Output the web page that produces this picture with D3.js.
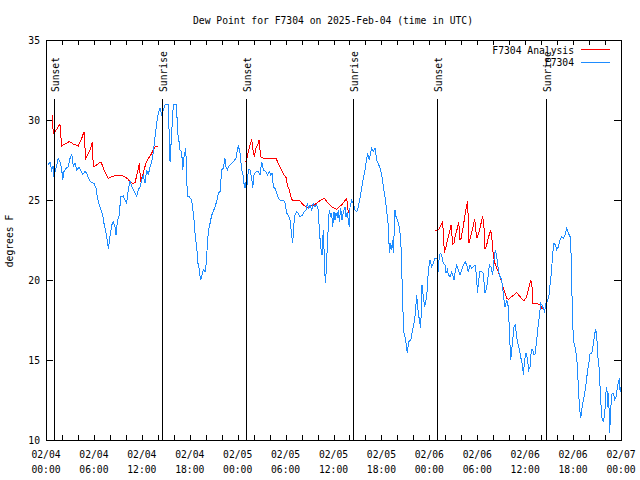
<!DOCTYPE html>
<html><head><meta charset="utf-8">
<script src="https://cdn.jsdelivr.net/npm/d3@7"></script>
<style>
html,body{margin:0;padding:0;background:#fff;}
svg{display:block;}
text{font-family:"DejaVu Sans Mono","Liberation Mono",monospace;font-size:9.7px;fill:#000;}
</style>
</head><body>
<svg id="chart" width="640" height="480"></svg>
<script>
// ---------------- DATA ----------------
const startTime = "2025-02-04T00:00:00Z";
const spanHours = 72;
const titleText = "Dew Point for F7304 on 2025-Feb-04 (time in UTC)";
const yLabelText = "degrees F";
const yTicks = [10, 15, 20, 25, 30, 35];
const seriesNames = ["F7304 Analysis", "F7304"];

// Observations (hours since start, dew point F)
const obsHours = [
0.29,0.50,0.71,0.88,1.00,1.13,1.54,1.75,1.96,2.09,
2.25,2.50,2.80,3.01,3.22,3.42,3.63,3.84,4.17,4.34,
4.59,4.88,5.09,5.42,5.72,6.01,6.26,6.42,6.67,6.89,
7.10,7.26,7.48,7.73,7.80,8.01,8.23,8.43,8.64,8.77,
8.93,9.18,9.35,9.68,9.89,10.10,10.31,10.52,10.73,10.93,
11.14,11.36,11.56,11.77,11.98,12.18,12.40,12.61,12.81,13.02,
13.24,13.44,13.65,13.86,14.06,14.27,14.49,14.69,14.90,15.31,
15.53,15.94,16.37,16.44,16.69,16.78,16.99,17.12,17.28,17.49,
17.62,17.69,17.91,18.24,18.45,18.57,18.70,18.87,19.03,19.20,
19.35,19.50,19.70,19.91,20.04,20.32,20.54,20.75,20.95,21.16,
21.37,21.58,21.79,22.00,22.20,22.41,22.54,22.70,22.83,23.04,
23.46,23.79,24.08,24.29,24.51,24.71,24.79,24.92,25.05,25.21,
25.33,25.55,25.76,25.88,26.05,26.30,26.59,26.80,27.01,27.21,
27.55,27.71,27.96,28.14,28.30,28.47,28.68,28.89,29.09,29.30,
29.72,29.93,30.14,30.34,30.55,30.76,30.89,31.05,31.18,31.39,
31.59,31.81,32.14,32.31,32.56,32.72,32.90,33.06,33.27,33.47,
33.68,33.90,34.10,34.22,34.40,34.56,34.72,34.85,34.97,35.10,
35.22,35.35,35.47,35.65,35.77,35.90,36.06,36.19,36.31,36.48,
36.60,36.73,36.90,37.07,37.23,37.44,37.57,37.73,37.86,37.98,
38.07,38.28,38.48,38.69,38.90,39.11,39.32,39.53,39.73,39.94,
40.16,40.28,40.48,40.66,40.78,40.99,41.20,41.41,41.61,41.82,
42.04,42.24,42.45,42.67,42.87,43.00,43.17,43.30,43.42,43.50,
43.70,43.83,43.99,44.24,44.42,44.54,44.67,44.83,45.04,45.24,
45.42,45.67,45.92,46.08,46.25,46.42,46.58,46.75,46.92,47.08,
47.25,47.42,47.58,47.75,47.87,48.08,48.29,48.50,48.71,49.00,
49.12,49.25,49.42,49.55,49.75,49.96,50.09,50.25,50.38,50.59,
50.80,50.93,51.09,51.21,51.43,51.63,51.84,52.05,52.26,52.47,
52.68,52.88,53.09,53.30,53.72,53.93,54.01,54.18,54.34,54.56,
54.76,54.97,55.09,55.26,55.51,55.72,55.93,56.10,56.26,56.44,
56.64,56.85,57.06,57.35,57.48,57.69,57.89,58.02,58.19,58.32,
58.44,58.60,58.77,58.94,59.07,59.19,59.35,59.52,59.69,59.77,
59.94,60.11,60.27,60.44,60.61,60.77,60.94,61.11,61.27,61.44,
61.61,61.77,61.95,62.11,62.27,62.44,62.61,62.77,62.98,63.11,
63.28,63.45,63.61,63.78,63.95,64.16,64.37,64.58,64.78,64.99,
65.20,65.41,65.62,65.74,65.87,66.03,66.24,66.45,66.62,66.79,
66.96,67.13,67.30,67.46,67.63,67.80,67.97,68.13,68.34,68.55,
68.72,68.85,68.97,69.10,69.22,69.38,69.51,69.64,69.80,69.97,
70.14,70.22,70.35,70.47,70.55,70.64,70.76,70.89,71.05,71.22,
71.38,71.55,71.72,71.80,71.89,72.00
];
const obsDew = [
27.19,27.39,26.88,27.13,26.44,26.77,27.6,27.4,26.98,26.25,
26.77,26.98,27.08,27.6,27.88,27.08,27.29,26.88,27.04,26.88,
26.6,26.77,26.67,26.25,26.08,26.04,25.73,25.21,24.69,24.38,
24.06,23.54,23.02,22.29,21.92,22.71,23.44,23.64,23.33,22.81,
23.64,24.06,25.21,25.25,25.0,24.79,25.63,26.21,25.83,25.63,
25.42,25.25,25.63,25.83,26.25,26.56,26.04,26.88,26.56,27.08,
27.4,28.02,28.96,29.79,30.42,30.73,30.31,30.63,30.94,30.94,
27.39,30.94,30.94,29.38,28.54,28.13,28.02,26.88,27.71,28.23,
26.67,25.21,25.21,25.0,24.17,23.54,22.71,22.08,21.04,20.63,
20.0,20.21,20.63,20.52,20.94,23.02,23.54,24.06,24.27,24.58,
24.9,25.42,25.52,26.88,26.98,27.6,27.08,26.88,27.08,27.19,
27.4,27.6,28.44,27.92,26.88,26.46,26.04,25.73,26.14,25.94,
26.88,26.88,26.35,25.73,26.56,26.77,26.77,26.56,27.39,26.88,
26.77,26.56,26.77,26.56,26.67,25.83,25.73,25.42,25.1,25.0,
25.0,24.79,24.17,24.06,23.75,22.81,22.29,23.54,24.06,24.27,
24.17,23.96,24.06,24.27,24.38,24.79,24.48,24.69,24.38,24.79,
24.58,24.69,24.38,23.13,22.08,21.56,23.13,21.46,19.79,20.63,
22.08,23.33,24.38,23.96,24.17,23.33,24.27,23.75,24.17,23.96,
24.38,23.64,24.48,23.75,24.27,24.58,23.96,24.27,23.64,23.33,
24.58,25.0,24.79,24.38,24.27,24.58,25.1,25.73,26.35,26.88,
27.6,27.92,27.5,28.02,28.23,28.02,28.23,27.5,27.29,26.98,
26.56,25.83,25.21,24.27,23.33,21.67,22.29,21.88,22.5,21.67,
24.38,23.96,23.75,23.33,22.5,20.83,18.33,16.67,16.25,15.42,
16.15,16.25,16.88,17.29,17.92,19.06,18.13,17.5,16.98,19.69,
18.96,18.33,18.75,19.38,20.63,21.25,20.83,21.04,21.35,21.35,
20.52,21.56,21.67,21.56,21.04,20.94,20.42,20.63,20.31,20.21,
20.52,20.31,20.0,20.42,20.94,20.63,20.31,20.63,20.94,21.15,
20.94,20.52,20.94,20.73,20.94,20.21,19.17,20.0,20.52,20.52,
20.42,19.17,19.38,19.79,20.94,20.83,20.31,21.25,21.88,21.46,
20.63,20.21,20.0,18.75,18.33,18.75,18.33,16.88,15.0,15.63,
16.25,17.08,17.19,16.46,16.04,15.83,15.42,15.0,14.58,14.06,
15.0,15.42,15.1,14.38,14.58,15.63,15.63,15.31,15.42,16.25,
17.08,17.71,18.54,18.44,18.23,18.02,18.54,18.65,19.06,19.69,
20.42,21.67,22.29,22.19,21.88,22.08,22.5,22.71,22.6,22.81,
23.23,22.92,22.71,21.67,18.96,16.25,15.83,15.21,13.75,12.08,
11.35,12.08,12.5,12.92,13.54,14.27,14.79,15.42,15.42,16.04,
16.67,16.92,16.46,15.21,14.79,13.33,12.08,11.25,11.15,11.67,
13.13,13.33,12.08,12.92,10.42,11.04,12.29,12.92,12.92,12.5,
12.71,13.33,13.65,13.85,13.02,13.33
];

// Analysis (null = gap in the analysis line)
const anaHours = [
0.75,0.92,1.13,1.54,1.75,1.96,2.38,2.92,3.42,4.05,
4.47,4.76,4.97,5.51,5.80,5.92,6.35,6.89,7.26,7.80,
8.23,8.85,9.48,10.18,10.52,10.86,11.14,11.43,11.68,11.86,
12.11,12.27,12.52,12.81,13.11,13.44,13.65,14.06,
19.0,
24.92,25.13,25.33,25.55,25.76,25.88,26.09,26.30,26.51,26.67,
26.88,27.21,28.80,29.09,29.51,29.80,30.05,30.22,30.47,30.76,
30.97,31.81,32.22,32.64,33.27,33.90,34.40,34.85,35.35,35.77,
36.40,36.73,37.03,37.32,37.65,37.86,38.07,
43.0,
48.71,49.12,49.42,49.67,49.88,50.09,50.38,50.59,50.71,50.93,
51.09,51.25,51.51,51.68,51.84,51.97,52.18,52.34,52.47,52.68,
52.80,52.97,53.18,53.43,53.68,53.93,54.18,54.43,54.68,54.85,
54.97,55.18,55.43,55.68,55.85,56.01,56.22,56.43,56.64,56.85,
57.06,57.26,57.48,57.69,57.89,58.32,58.94,59.35,59.85,60.19,
60.40,60.70,60.86,60.94,61.23,61.65,61.86,62.07,62.27
];
const anaDew = [
30.3,29.17,29.27,29.58,29.75,28.38,28.5,28.65,28.5,28.38,
28.85,29.27,27.6,28.13,28.6,27.08,27.19,27.39,26.88,26.35,
26.46,26.56,26.56,26.35,26.15,26.04,26.08,26.67,27.29,26.15,
26.56,26.88,27.29,27.6,27.81,28.13,28.33,28.38,
null,
27.39,27.5,28.02,28.44,28.79,28.23,27.71,28.23,28.44,28.75,
27.71,27.6,27.6,27.29,26.88,26.56,26.42,25.94,25.63,25.04,
24.96,24.94,24.69,24.54,24.63,24.79,25.0,25.1,24.79,24.58,
24.42,24.58,24.69,24.9,25.1,24.21,24.17,
null,
23.08,23.13,23.38,23.67,21.71,22.08,22.71,23.13,23.44,22.25,
22.29,22.81,23.23,23.65,22.5,22.6,23.13,23.65,24.06,24.69,
24.9,22.29,22.71,23.23,23.79,22.6,22.92,23.44,24.0,23.23,
21.92,22.19,22.71,23.13,22.5,21.56,21.04,20.73,20.52,20.21,
19.9,19.48,19.17,18.85,18.79,18.96,19.21,18.96,18.69,18.96,
19.38,20.0,19.58,18.54,18.54,18.5,18.5,18.23,18.23
];

// Sun events (hours since start)
const sunEventHours = [1.04, 14.57, 25.0, 38.48, 49.0, 62.57];
const sunEventNames = ["Sunset", "Sunrise", "Sunset", "Sunrise", "Sunset", "Sunrise"];

// ---------------- DRAWING ----------------
const t0 = new Date(startTime).getTime();
const toDate = h => new Date(t0 + h * 3600e3);
const tEnd = toDate(spanHours);

const W = 640, H = 480;
const plot = {left: 46, right: 621, top: 40, bottom: 440};

const svg = d3.select("#chart");
svg.append("rect").attr("width", W).attr("height", H).attr("fill", "#fff");

const x = d3.scaleUtc().domain([toDate(0), tEnd]).range([plot.left, plot.right]);
const y = d3.scaleLinear().domain([10, 35]).range([plot.bottom, plot.top]);

const obs = obsHours.map((h, i) => ({t: toDate(h), v: obsDew[i]}));
const ana = anaHours.map((h, i) => ({t: toDate(h), v: anaDew[i]}));

const twoHourTicks = d3.utcHour.every(2).range(toDate(0), new Date(tEnd.getTime() + 1));
const sixHourTicks = d3.utcHour.every(6).range(toDate(0), new Date(tEnd.getTime() + 1));

function clean(g) {
  g.attr("font-family", null).attr("font-size", null);
  g.select(".domain").remove();
  g.selectAll("line").attr("shape-rendering", "crispEdges");
}

svg.append("g").attr("transform", `translate(0,${plot.bottom})`)
  .call(d3.axisBottom(x).tickValues(twoHourTicks).tickSize(-5).tickFormat(""))
  .call(clean);
svg.append("g").attr("transform", `translate(0,${plot.top})`)
  .call(d3.axisTop(x).tickValues(twoHourTicks).tickSize(-5).tickFormat(""))
  .call(clean);
svg.append("g").attr("transform", `translate(${plot.left},0)`)
  .call(d3.axisLeft(y).tickValues(yTicks).tickSize(-7).tickPadding(6).tickFormat(d3.format("d")))
  .call(clean)
  .call(g => g.selectAll("text").attr("dy", null).attr("dominant-baseline", "central"));
svg.append("g").attr("transform", `translate(${plot.right},0)`)
  .call(d3.axisRight(y).tickValues(yTicks).tickSize(-7).tickFormat(""))
  .call(clean);

// two-line time labels
const fmtDate = d3.utcFormat("%m/%d"), fmtTime = d3.utcFormat("%H:%M");
const lab = svg.append("g").attr("text-anchor", "middle");
lab.selectAll("text.d").data(sixHourTicks).join("text")
  .attr("x", d => x(d)).attr("y", 458).text(d => fmtDate(d));
lab.selectAll("text.t").data(sixHourTicks).join("text")
  .attr("x", d => x(d)).attr("y", 473).text(d => fmtTime(d));

// border
svg.append("rect")
  .attr("x", plot.left + 0.5).attr("y", plot.top + 0.5)
  .attr("width", plot.right - plot.left).attr("height", plot.bottom - plot.top)
  .attr("fill", "none").attr("stroke", "#000").attr("stroke-width", 1)
  .attr("shape-rendering", "crispEdges");

// data lines
const line = d3.line().defined(d => d.v != null).x(d => x(d.t)).y(d => y(d.v));
svg.append("path").datum(ana).attr("d", line)
  .attr("fill", "none").attr("stroke", "#ff0000").attr("stroke-width", 1)
  .attr("shape-rendering", "crispEdges");
svg.append("path").datum(obs).attr("d", line)
  .attr("fill", "none").attr("stroke", "#1e8cff").attr("stroke-width", 1)
  .attr("shape-rendering", "crispEdges");

// sun events
const sun = svg.append("g").selectAll("g").data(sunEventHours).join("g");
sun.append("line")
  .attr("x1", d => Math.round(x(toDate(d))) + 0.5).attr("x2", d => Math.round(x(toDate(d))) + 0.5)
  .attr("y1", 99).attr("y2", plot.bottom)
  .attr("stroke", "#000").attr("stroke-width", 1).attr("shape-rendering", "crispEdges");
sun.append("text")
  .attr("transform", d => `translate(${x(toDate(d)) + 1.5},92) rotate(-90)`)
  .attr("text-anchor", "start").attr("dominant-baseline", "central")
  .text((d, i) => sunEventNames[i]);

// title & y label
svg.append("text").attr("x", 333).attr("y", 24).attr("text-anchor", "middle").text(titleText);
svg.append("text").attr("transform", "translate(9.5,241) rotate(-90)")
  .attr("text-anchor", "middle").attr("dominant-baseline", "central").text(yLabelText);

// legend
const legColors = ["#ff0000", "#1e8cff"];
const leg = svg.append("g").selectAll("g").data(seriesNames).join("g")
  .attr("transform", (d, i) => `translate(0,${50 + i * 12.5})`);
leg.append("text").attr("x", 574).attr("y", 0)
  .attr("text-anchor", "end").attr("dominant-baseline", "central").text(d => d);
leg.append("line").attr("x1", 581).attr("x2", 610).attr("y1", -0.5).attr("y2", -0.5)
  .attr("stroke", (d, i) => legColors[i]).attr("stroke-width", 1).attr("shape-rendering", "crispEdges");
</script>
</body></html>
